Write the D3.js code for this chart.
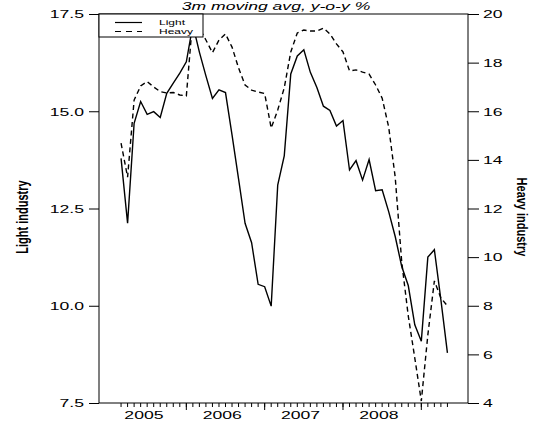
<!DOCTYPE html>
<html>
<head>
<meta charset="utf-8">
<script src="https://cdn.jsdelivr.net/npm/d3@7"></script>
<style>
  html, body { margin: 0; padding: 0; background: #fff; }
  svg { display: block; }
  text { font-family: "Liberation Sans", Arial, Helvetica, sans-serif; fill: #000; }
</style>
</head>
<body>
<svg id="chart" width="534" height="423"></svg>
<script>
// ---------- data ----------
const months = [
  "2005-03","2005-04","2005-05","2005-06","2005-07","2005-08","2005-09","2005-10","2005-11","2005-12",
  "2006-01","2006-02","2006-03","2006-04","2006-05","2006-06","2006-07","2006-08","2006-09","2006-10","2006-11","2006-12",
  "2007-01","2007-02","2007-03","2007-04","2007-05","2007-06","2007-07","2007-08","2007-09","2007-10","2007-11","2007-12",
  "2008-01","2008-02","2008-03","2008-04","2008-05","2008-06","2008-07","2008-08","2008-09","2008-10","2008-11","2008-12",
  "2009-01","2009-02","2009-03","2009-04","2009-05"
];
const lightIndustry = [
  13.79, 12.12, 14.69, 15.25, 14.92, 14.99, 14.84, 15.46, 15.72, 15.98,
  16.27, 17.22, 16.52, 15.91, 15.33, 15.55, 15.48, 14.39, 13.26, 12.12, 11.62, 10.55,
  10.49, 9.99, 13.10, 13.85, 15.96, 16.42, 16.58, 16.00, 15.61, 15.13, 15.02, 14.62,
  14.76, 13.49, 13.73, 13.23, 13.76, 12.96, 12.98, 12.42, 11.78, 11.01, 10.52, 9.51,
  9.09, 11.25, 11.44, 10.15, 8.79
];
const heavyIndustry = [
  14.69, 13.29, 16.46, 17.04, 17.22, 17.00, 16.81, 16.75, 16.77, 16.67,
  16.63, 19.84, 19.42, 18.93, 18.41, 18.93, 19.18, 18.64, 17.78, 17.08, 16.87, 16.79,
  16.73, 15.31, 16.05, 16.96, 18.44, 19.22, 19.34, 19.30, 19.30, 19.42, 19.18, 18.77,
  18.44, 17.66, 17.70, 17.61, 17.53, 17.08, 16.54, 15.35, 13.29, 9.80, 7.58, 5.85,
  4.08, 6.80, 9.02, 8.32, 7.99
];
const leftTicks = [7.5, 10.0, 12.5, 15.0, 17.5];
const rightTicks = [4, 6, 8, 10, 12, 14, 16, 18, 20];
const yearLabels = ["2005", "2006", "2007", "2008"];
const majorYears = [2006, 2007, 2008, 2009];
const seriesNames = ["Light", "Heavy"];
const titleText = "3m moving avg, y-o-y %";
const leftTitle = "Light industry";
const rightTitle = "Heavy industry";

// ---------- layout ----------
const L = 99, R = 468, T = 14, B = 403;
const SX = 1.6; // horizontal text stretch seen in reference
const svg = d3.select("#chart");

const toYear = s => { const [y, m] = s.split("-").map(Number); return y + (m - 1) / 12; };
const x = d3.scaleLinear().domain([2004.885, 2009.596]).range([L, R]);
const yL = d3.scaleLinear().domain([7.5, 17.5]).range([B, T]);
const yR = d3.scaleLinear().domain([4, 20]).range([B, T]);

// left axis
const gL = svg.append("g").attr("transform", `translate(${L},0)`)
  .call(d3.axisLeft(yL).tickValues(leftTicks).tickSize(10).tickFormat(d3.format(".1f")));
gL.select(".domain").remove();
gL.selectAll(".tick text").attr("x", 0).attr("dy", "0.35em")
  .attr("transform", `translate(-15,0) scale(${SX},1)`)
  .style("font-size", "11px").attr("font-family", null);

// right axis
const gR = svg.append("g").attr("transform", `translate(${R},0)`)
  .call(d3.axisRight(yR).tickValues(rightTicks).tickSize(11).tickFormat(d3.format("d")));
gR.select(".domain").remove();
gR.selectAll(".tick text").attr("x", 0).attr("dy", "0.35em")
  .attr("transform", `translate(15,0) scale(${SX},1)`)
  .style("font-size", "11px").attr("font-family", null);

// bottom: minor month ticks
const gB = svg.append("g").attr("transform", `translate(0,${B})`);
gB.selectAll("line.minor").data(months).join("line")
  .attr("x1", d => x(toYear(d))).attr("x2", d => x(toYear(d)))
  .attr("y1", 0).attr("y2", 4).attr("stroke", "#000").attr("stroke-width", 1);
gB.selectAll("line.major").data(majorYears).join("line")
  .attr("x1", d => x(d)).attr("x2", d => x(d))
  .attr("y1", 0).attr("y2", 7).attr("stroke", "#000").attr("stroke-width", 1);
gB.selectAll("text.yr").data(yearLabels).join("text")
  .attr("transform", d => `translate(${x(+d + 5.5 / 12)},16) scale(${SX},1)`)
  .attr("text-anchor", "middle").style("font-size", "11px").text(d => d);

// frame
svg.append("rect").attr("x", L).attr("y", T).attr("width", R - L).attr("height", B - T)
  .attr("fill", "none").attr("stroke", "#000").attr("stroke-width", 1);

// lines
const lightLine = d3.line().x((d, i) => x(toYear(months[i]))).y(d => yL(d));
const heavyLine = d3.line().x((d, i) => x(toYear(months[i]))).y(d => yR(d));
svg.append("path").datum(heavyIndustry).attr("d", heavyLine)
  .attr("fill", "none").attr("stroke", "#000").attr("stroke-width", 1.4)
  .attr("stroke-dasharray", "5,3.5");
svg.append("path").datum(lightIndustry).attr("d", lightLine)
  .attr("fill", "none").attr("stroke", "#000").attr("stroke-width", 1.4);

// legend
const lg = svg.append("g");
lg.append("rect").attr("x", L).attr("y", T).attr("width", 104).attr("height", 23)
  .attr("fill", "#fff").attr("stroke", "#000").attr("stroke-width", 1);
const legY = [22.5, 31.5];
seriesNames.forEach((name, i) => {
  lg.append("line").attr("x1", 115).attr("x2", 142).attr("y1", legY[i]).attr("y2", legY[i])
    .attr("stroke", "#000").attr("stroke-width", 1.2)
    .attr("stroke-dasharray", i === 1 ? "6,5" : null);
  lg.append("text").attr("transform", `translate(159,${legY[i] + 2.7}) scale(${SX},1)`)
    .style("font-size", "7.5px").text(name);
});

// title
svg.append("text").attr("transform", `translate(276,10) scale(${SX},1)`)
  .attr("text-anchor", "middle").style("font-size", "11px").style("font-style", "italic")
  .text(titleText);

// axis titles
svg.append("text").attr("transform", "translate(22,217) rotate(-90) scale(1,1.5)")
  .attr("text-anchor", "middle").attr("dominant-baseline", "central")
  .style("font-size", "11px").style("font-weight", "bold").text(leftTitle);
svg.append("text").attr("transform", "translate(522,217) rotate(90) scale(1,1.4)")
  .attr("text-anchor", "middle").attr("dominant-baseline", "central")
  .style("font-size", "11px").style("font-weight", "bold").text(rightTitle);
</script>
</body>
</html>
